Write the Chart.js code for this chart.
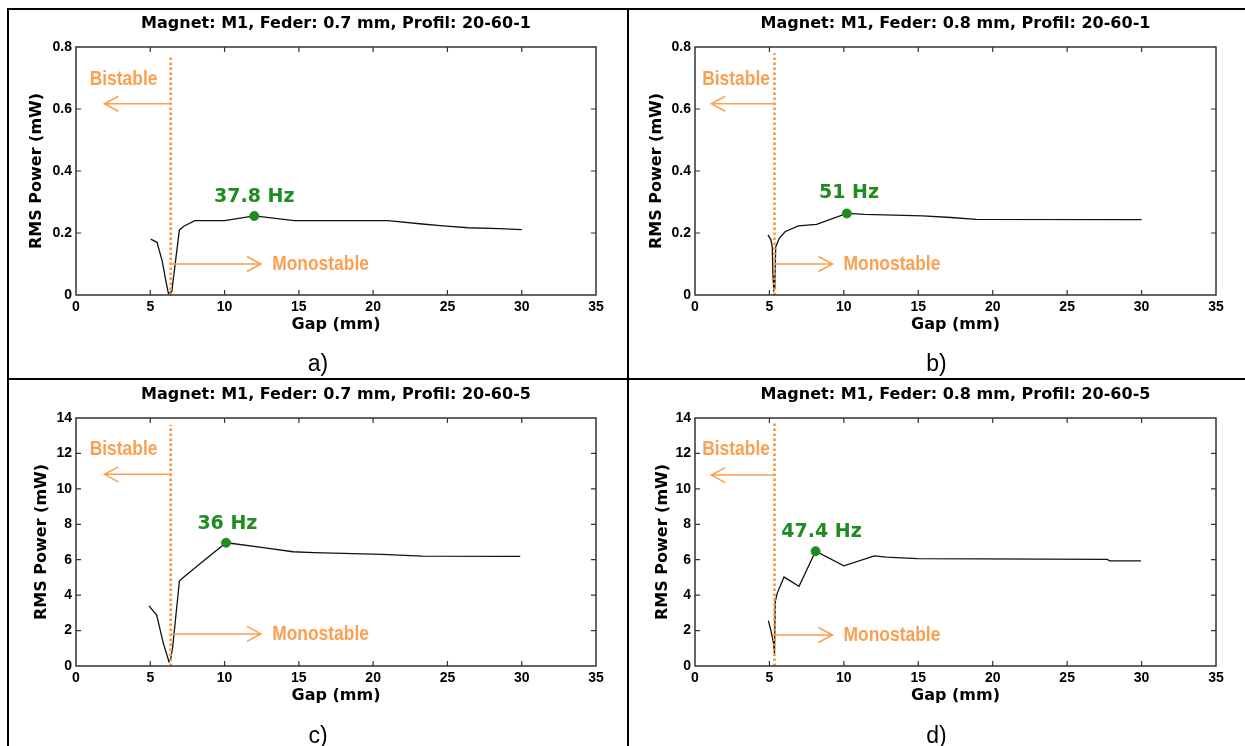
<!DOCTYPE html>
<html><head><meta charset="utf-8">
<script src="https://cdn.jsdelivr.net/npm/chart.js@4.4.1/dist/chart.umd.min.js"></script>
<style>
html,body{margin:0;padding:0;background:#fff;overflow:hidden;width:1245px;height:746px}
.cv{position:absolute}
.ln{position:absolute;background:#000}
</style></head><body>
<canvas id="ca" class="cv" style="left:8px;top:9px" width="620" height="370"></canvas>
<canvas id="cb" class="cv" style="left:628px;top:9px" width="617" height="370"></canvas>
<canvas id="cc" class="cv" style="left:8px;top:379px" width="620" height="370"></canvas>
<canvas id="cd" class="cv" style="left:628px;top:379px" width="617" height="370"></canvas>
<div class="ln" style="left:7px;top:8px;width:1238px;height:2px"></div>
<div class="ln" style="left:7px;top:8px;width:2px;height:738px"></div>
<div class="ln" style="left:627px;top:8px;width:2px;height:738px"></div>
<div class="ln" style="left:7px;top:378px;width:1238px;height:2px"></div>
<script>
// ---------- data ----------
const xTicks = [0, 5, 10, 15, 20, 25, 30, 35];
const yTicksAB = [0, 0.2, 0.4, 0.6, 0.8];
const yTicksCD = [0, 2, 4, 6, 8, 10, 12, 14];

const titles = [
  'Magnet: M1, Feder: 0.7 mm, Profil: 20-60-1',
  'Magnet: M1, Feder: 0.8 mm, Profil: 20-60-1',
  'Magnet: M1, Feder: 0.7 mm, Profil: 20-60-5',
  'Magnet: M1, Feder: 0.8 mm, Profil: 20-60-5'
];
const panelLabels = ['a)', 'b)', 'c)', 'd)'];
const xTitle = 'Gap (mm)';
const yTitle = 'RMS Power (mW)';

const gapA = [5.03, 5.45, 5.8, 6.05, 6.22, 6.45, 6.7, 6.96, 7.25, 8.0, 10.0, 12.0, 14.7, 21.0, 23.3, 24.7, 26.4, 28.5, 30.0];
const powerA = [0.180, 0.170, 0.110, 0.045, 0.005, 0.012, 0.110, 0.210, 0.222, 0.240, 0.240, 0.255, 0.240, 0.240, 0.229, 0.223, 0.217, 0.214, 0.211];
const peakA = 11;

const gapB = [4.9, 5.1, 5.19, 5.24, 5.3, 5.36, 5.42, 5.66, 6.05, 6.94, 8.17, 10.2, 11.4, 15.3, 17.2, 18.9, 30.0];
const powerB = [0.194, 0.178, 0.155, 0.06, 0.015, 0.02, 0.155, 0.183, 0.204, 0.223, 0.228, 0.263, 0.260, 0.255, 0.250, 0.244, 0.243];
const peakB = 11;

const gapC = [4.91, 5.43, 5.88, 6.26, 6.37, 6.51, 6.96, 7.22, 8.8, 10.1, 10.4, 12.6, 14.6, 16.0, 20.6, 23.3, 29.9];
const powerC = [3.39, 2.88, 1.28, 0.24, 0.38, 1.09, 4.8, 5.0, 6.08, 6.96, 6.93, 6.68, 6.45, 6.4, 6.3, 6.2, 6.19];
const peakC = 9;

const gapD = [4.93, 5.1, 5.26, 5.34, 5.39, 5.52, 5.98, 6.99, 8.1, 10.0, 12.05, 12.85, 14.95, 27.7, 27.85, 29.96];
const powerD = [2.56, 2.0, 1.37, 0.7, 3.63, 4.1, 5.02, 4.5, 6.48, 5.65, 6.22, 6.15, 6.06, 6.02, 5.94, 5.94];
const peakD = 8;

const peakLabels = ['37.8 Hz', '51 Hz', '36 Hz', '47.4 Hz'];
const peakLabelX = [12.0, 10.35, 10.19, 8.5];
const peakLabelY = [0.316, 0.328, 8.0, 7.58];

// stability boundary (gap, top of dotted line)
const boundaryGap = [6.37, 5.34, 6.37, 5.34];
const boundaryTop = [0.77, 0.78, 13.62, 13.75];
// "Bistable" arrow: level, tip gap; text centre
const bistableY = [0.617, 0.617, 10.82, 10.78];
const bistableTip = [1.91, 1.09, 1.91, 1.09];
const bistableTextX = [3.2, 2.76, 3.2, 2.76];
const bistableTextY = [0.697, 0.697, 12.25, 12.25];
// "Monostable" arrow: level, tip gap; text centre
const monoY = [0.10, 0.10, 1.81, 1.75];
const monoTip = [12.45, 9.24, 12.45, 9.24];
const monoTextX = [16.46, 13.23, 16.46, 13.23];

// ---------- drawing ----------
Chart.defaults.color = '#000';
const ORANGE = '#FAA050';
const ORANGE_DOT = '#F7943C';
const GREEN = '#1E8C1E';

const framePlugin = {
  id: 'frameTicks',
  afterDatasetsDraw(chart) {
    const {ctx, chartArea: a, scales: {x, y}} = chart;
    ctx.save();
    ctx.strokeStyle = '#333';
    ctx.lineWidth = 1.5;
    ctx.strokeRect(a.left, a.top, a.right - a.left, a.bottom - a.top);
    ctx.lineWidth = 1.2;
    ctx.beginPath();
    x.ticks.forEach(t => {
      const px = x.getPixelForValue(t.value);
      if (px <= a.left + 1 || px >= a.right - 1) return;
      ctx.moveTo(px, a.bottom); ctx.lineTo(px, a.bottom - 5);
      ctx.moveTo(px, a.top); ctx.lineTo(px, a.top + 5);
    });
    y.ticks.forEach(t => {
      const py = y.getPixelForValue(t.value);
      if (py <= a.top + 1 || py >= a.bottom - 1) return;
      ctx.moveTo(a.left, py); ctx.lineTo(a.left + 5, py);
      ctx.moveTo(a.right, py); ctx.lineTo(a.right - 5, py);
    });
    ctx.stroke();
    ctx.restore();
  }
};

const annotPlugin = {
  id: 'annot',
  afterDatasetsDraw(chart, args, o) {
    const {ctx, scales: {x, y}} = chart;
    const i = o.idx;
    ctx.save();
    const arrow = (x0, x1, yy) => {
      const p0 = x.getPixelForValue(x0), p1 = x.getPixelForValue(x1), py = y.getPixelForValue(yy);
      const dir = Math.sign(p1 - p0);
      ctx.beginPath();
      ctx.moveTo(p0, py); ctx.lineTo(p1, py);
      ctx.moveTo(p1 - dir * 14, py - 7.5); ctx.lineTo(p1, py); ctx.lineTo(p1 - dir * 14, py + 7.5);
      ctx.stroke();
    };
    const narrowText = (txt, vx, vy) => {
      ctx.save();
      ctx.translate(x.getPixelForValue(vx), y.getPixelForValue(vy));
      ctx.scale(0.83, 1);
      ctx.fillText(txt, 0, 0);
      ctx.restore();
    };
    ctx.strokeStyle = ORANGE;
    ctx.lineWidth = 1.5;
    arrow(boundaryGap[i], bistableTip[i], bistableY[i]);
    arrow(boundaryGap[i], monoTip[i], monoY[i]);
    ctx.fillStyle = ORANGE;
    ctx.font = 'bold 21px "Liberation Sans", sans-serif';
    ctx.textAlign = 'center';
    ctx.textBaseline = 'middle';
    narrowText('Bistable', bistableTextX[i], bistableTextY[i]);
    narrowText('Monostable', monoTextX[i], monoY[i]);
    ctx.fillStyle = GREEN;
    ctx.font = 'bold 19px "DejaVu Sans", sans-serif';
    ctx.fillText(peakLabels[i], x.getPixelForValue(peakLabelX[i]), y.getPixelForValue(peakLabelY[i]));
    ctx.restore();
  }
};

function pts(xs, ys) { return xs.map((v, k) => ({x: v, y: ys[k]})); }

function makePanel(id, i, gaps, powers, peak, yTicks, lay) {
  const yMax = yTicks[yTicks.length - 1];
  const subTop = lay.lc - (lay.B + 38) - 11.5;
  const subBottom = lay.H - (lay.B + 38) - 23 - subTop;
  new Chart(document.getElementById(id), {
    type: 'line',
    data: {
      datasets: [
        {data: [{x: gaps[peak], y: powers[peak]}], showLine: false, pointRadius: 4.5,
         pointBackgroundColor: GREEN, pointBorderColor: GREEN, order: 0},
        {data: [{x: boundaryGap[i], y: 0}, {x: boundaryGap[i], y: boundaryTop[i]}],
         borderColor: ORANGE_DOT, borderWidth: 2.6, borderDash: [2.5, 2.5], pointRadius: 0, order: 1},
        {data: pts(gaps, powers), borderColor: '#111', borderWidth: 1.3, pointRadius: 0,
         tension: 0, order: 2}
      ]
    },
    options: {
      responsive: false, animation: false, devicePixelRatio: 1,
      layout: {padding: 0},
      events: [],
      plugins: {
        legend: {display: false}, tooltip: {enabled: false},
        title: {display: true, text: titles[i], fullSize: false, color: '#000',
          font: {family: 'DejaVu Sans', weight: 'bold', size: 16, lineHeight: 1},
          padding: {top: lay.tc - 8, bottom: lay.T - lay.tc - 8}},
        subtitle: {display: true, text: panelLabels[i], position: 'bottom', fullSize: true, color: '#000',
          font: {family: 'Liberation Sans', weight: 'normal', size: 23, lineHeight: 1},
          padding: {top: subTop, bottom: subBottom}},
        annot: {idx: i}
      },
      scales: {
        x: {type: 'linear', position: 'bottom', min: xTicks[0], max: xTicks[xTicks.length - 1],
          afterBuildTicks: s => { s.ticks = xTicks.map(v => ({value: v})); },
          ticks: {padding: 4.7, maxRotation: 0, autoSkip: false,
            font: {family: 'Liberation Sans', weight: 'bold', size: 14, lineHeight: 1}},
          grid: {display: false, drawTicks: false}, border: {display: false},
          title: {display: true, text: xTitle, padding: {top: 0, bottom: 0},
            font: {family: 'DejaVu Sans', weight: 'bold', size: 16, lineHeight: 1}},
          afterFit: s => { s.height = 38; }},
        y: {type: 'linear', position: 'left', min: 0, max: yMax,
          afterBuildTicks: s => { s.ticks = yTicks.map(v => ({value: v})); },
          ticks: {padding: 4, autoSkip: false,
            font: {family: 'Liberation Sans', weight: 'bold', size: 14, lineHeight: 1}},
          grid: {display: false, drawTicks: false}, border: {display: false},
          title: {display: true, text: yTitle, padding: {top: lay.yt - 8, bottom: 0},
            font: {family: 'DejaVu Sans', weight: 'bold', size: 16, lineHeight: 1}},
          afterFit: s => { s.width = lay.L; }},
        y2: {type: 'linear', position: 'right', min: 0, max: 1,
          ticks: {display: false}, grid: {display: false, drawTicks: false}, border: {display: false},
          afterFit: s => { s.width = lay.W - lay.R; }}
      }
    },
    plugins: [framePlugin, annotPlugin]
  });
}

makePanel('ca', 0, gapA, powerA, peakA, yTicksAB, {W: 620, H: 370, L: 68, R: 588, T: 38, B: 286, tc: 15, lc: 356, yt: 28.9});
makePanel('cb', 1, gapB, powerB, peakB, yTicksAB, {W: 617, H: 370, L: 67, R: 588, T: 38, B: 286, tc: 15, lc: 356, yt: 29});
makePanel('cc', 2, gapC, powerC, peakC, yTicksCD, {W: 620, H: 370, L: 68, R: 588, T: 39, B: 287, tc: 16, lc: 357.7, yt: 33.9});
makePanel('cd', 3, gapD, powerD, peakD, yTicksCD, {W: 617, H: 370, L: 67, R: 588, T: 39, B: 287, tc: 16, lc: 357.7, yt: 34.6});
</script>
</body></html>
